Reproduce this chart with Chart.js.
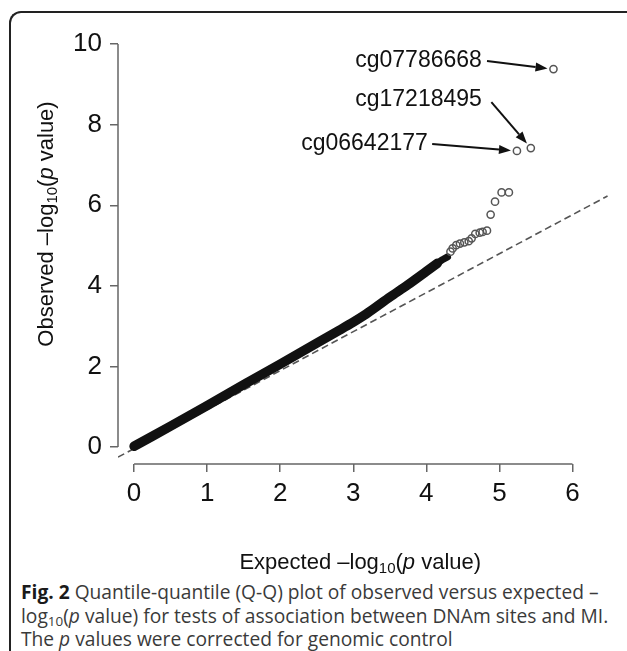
<!DOCTYPE html>
<html>
<head>
<meta charset="utf-8">
<script src="https://cdn.jsdelivr.net/npm/chart.js@4.4.0/dist/chart.umd.min.js"></script>
<style>
  body { margin: 0; background: #fff; }
  #wrap { position: relative; width: 627px; height: 651px; overflow: hidden; }
  #frame { position: absolute; left: 9px; top: 11px; width: 660px; height: 700px;
           border-top: 2px solid #222; border-left: 2px solid #222; border-top-left-radius: 12px; }
  #qq { position: absolute; left: 0; top: 0; }
  #caption { position: absolute; left: 21px; top: 580px; font-family: "Open Sans", sans-serif;
             font-size: 19.2px; line-height: 23.5px; color: #3a3a3a; white-space: nowrap; }
  #caption b { color: #1a1a1a; }
  #caption sub { font-size: 0.7em; line-height: 0; vertical-align: -0.25em; }
</style>
</head>
<body>
<div id="wrap">
  <div id="frame"></div>
  <canvas id="qq" width="627" height="578"></canvas>
  <div id="caption"><b>Fig. 2</b> Quantile-quantile (Q-Q) plot of observed versus expected &ndash;<br>log<sub>10</sub>(<i>p</i> value) for tests of association between DNAm sites and MI.<br>The <i>p</i> values were corrected for genomic control</div>
</div>
<script>
// tick labels
const xTicks = [0, 1, 2, 3, 4, 5, 6];
const yTicks = [0, 2, 4, 6, 8, 10];

// dense part of the cloud (expected vs observed -log10 p)
const bulkExpected = [0, 0.5, 1, 1.5, 2, 2.5, 2.8, 3.0, 3.15, 3.3, 3.5, 3.75, 4.0, 4.15];
const bulkObserved = [0.02, 0.52, 1.03, 1.55, 2.06, 2.58, 2.89, 3.1, 3.27, 3.46, 3.72, 4.03, 4.36, 4.56];
// very top of the band, thinner
const upperExpected = [4.15, 4.22, 4.29];
const upperObserved = [4.56, 4.65, 4.72];

// individual points in the tail
const tailExpected = [4.33, 4.36, 4.41, 4.46, 4.52, 4.58, 4.62, 4.67, 4.73, 4.77, 4.83, 4.88, 4.94, 5.03, 5.13, 5.24, 5.43, 5.74];
const tailObserved = [4.85, 4.93, 5.01, 5.05, 5.08, 5.11, 5.18, 5.29, 5.32, 5.34, 5.37, 5.77, 6.09, 6.32, 6.32, 7.35, 7.42, 9.38];

// reference line
const refX = [-0.22, 6.48];
const refY = [-0.25, 6.23];

// labelled sites (last three tail points, from the top)
const topSites = ["cg07786668", "cg17218495", "cg06642177"];

const pts = (xs, ys) => xs.map((x, i) => ({ x: x, y: ys[i] }));
const FONT = '"Liberation Sans", Arial, sans-serif';

// label anchors in data units: right end of text, and start of the arrow
const labelPos = [
  { tx: 4.76, ty: 9.58, ax: 4.83, ay: 9.58, idx: 17 },
  { tx: 4.76, ty: 8.61, ax: 4.89, ay: 8.56, idx: 16 },
  { tx: 4.02, ty: 7.54, ax: 4.08, ay: 7.52, idx: 15 }
];

function drawRich(ctx, runs, cx, cy, rot) {
  ctx.save();
  ctx.translate(cx, cy);
  if (rot) ctx.rotate(rot);
  let total = 0;
  runs.forEach(r => { ctx.font = r.f; r.w = ctx.measureText(r.t).width; total += r.w; });
  let x = -total / 2;
  ctx.textBaseline = 'middle';
  ctx.textAlign = 'left';
  ctx.fillStyle = '#111';
  runs.forEach(r => { ctx.font = r.f; ctx.fillText(r.t, x, r.dy || 0); x += r.w; });
  ctx.restore();
}

function titleRuns(word) {
  const base = '22px ' + FONT;
  return [
    { t: word + ' \u2013log', f: base },
    { t: '10', f: '15px ' + FONT, dy: 6 },
    { t: '(', f: base },
    { t: 'p', f: 'italic 22px ' + FONT },
    { t: ' value)', f: base }
  ];
}

const decor = {
  id: 'decor',
  afterDraw(chart) {
    const ctx = chart.ctx;
    const xs = chart.scales.x, ys = chart.scales.y;
    const area = chart.chartArea;

    // R style axes: lines only across the tick range
    ctx.save();
    ctx.strokeStyle = '#666';
    ctx.lineWidth = 1.5;
    ctx.beginPath();
    ctx.moveTo(area.left, ys.getPixelForValue(yTicks[0]));
    ctx.lineTo(area.left, ys.getPixelForValue(yTicks[yTicks.length - 1]));
    ctx.moveTo(xs.getPixelForValue(xTicks[0]), area.bottom);
    ctx.lineTo(xs.getPixelForValue(xTicks[xTicks.length - 1]), area.bottom);
    ctx.stroke();
    ctx.restore();

    // axis titles
    drawRich(ctx, titleRuns('Expected'), (xs.getPixelForValue(0) + xs.getPixelForValue(6)) / 2 + 7, 563, 0);
    drawRich(ctx, titleRuns('Observed'), 47, 224, -Math.PI / 2);

    // site labels with arrows
    ctx.save();
    ctx.font = '23px ' + FONT;
    ctx.fillStyle = '#111';
    ctx.textAlign = 'right';
    ctx.textBaseline = 'middle';
    labelPos.forEach((l, i) => {
      ctx.fillText(topSites[i], xs.getPixelForValue(l.tx), ys.getPixelForValue(l.ty));
      const x0 = xs.getPixelForValue(l.ax), y0 = ys.getPixelForValue(l.ay);
      const px = xs.getPixelForValue(tailExpected[l.idx]), py = ys.getPixelForValue(tailObserved[l.idx]);
      const ang = Math.atan2(py - y0, px - x0);
      const x1 = px - 6 * Math.cos(ang), y1 = py - 6 * Math.sin(ang);
      const hl = 12, hw = 4.5;
      const bx = x1 - hl * Math.cos(ang), by = y1 - hl * Math.sin(ang);
      ctx.strokeStyle = '#111';
      ctx.lineWidth = 2;
      ctx.beginPath();
      ctx.moveTo(x0, y0);
      ctx.lineTo(bx, by);
      ctx.stroke();
      ctx.beginPath();
      ctx.moveTo(x1, y1);
      ctx.lineTo(bx - hw * Math.sin(ang), by + hw * Math.cos(ang));
      ctx.lineTo(bx + hw * Math.sin(ang), by - hw * Math.cos(ang));
      ctx.closePath();
      ctx.fill();
    });
    ctx.restore();
  }
};

new Chart(document.getElementById('qq'), {
  type: 'scatter',
  data: {
    datasets: [
      {
        type: 'line', label: 'null', data: pts(refX, refY), showLine: true,
        borderColor: '#555', borderWidth: 1.6, borderDash: [7, 4], pointRadius: 0, order: 4
      },
      {
        type: 'line', label: 'bulk', data: pts(bulkExpected, bulkObserved), showLine: true,
        borderColor: '#111', borderWidth: 9.5, borderCapStyle: 'round', borderJoinStyle: 'round',
        tension: 0.3, pointRadius: 0, order: 3
      },
      {
        type: 'line', label: 'upper', data: pts(upperExpected, upperObserved), showLine: true,
        borderColor: '#111', borderWidth: 7, borderCapStyle: 'round', borderJoinStyle: 'round',
        pointRadius: 0, order: 2
      },
      {
        label: 'tail', data: pts(tailExpected, tailObserved),
        pointRadius: 3.6, pointBorderWidth: 1.5, borderColor: '#555',
        backgroundColor: 'rgba(255,255,255,0)', order: 1
      }
    ]
  },
  options: {
    responsive: false,
    animation: false,
    layout: { padding: { top: 28, right: 18, left: 0, bottom: 0 } },
    plugins: { legend: { display: false }, tooltip: { enabled: false } },
    scales: {
      x: {
        type: 'linear', min: -0.22, max: 6.5,
        afterFit(s) { s.height = 114; },
        afterBuildTicks(s) { s.ticks = xTicks.map(v => ({ value: v })); },
        border: { display: false },
        grid: { drawOnChartArea: false, drawTicks: true, tickLength: 8, color: '#666', lineWidth: 1.5 },
        ticks: { font: { size: 26, family: FONT }, color: '#111', padding: 6, maxRotation: 0, callback: v => String(v) }
      },
      y: {
        type: 'linear', min: -0.42, max: 10.4,
        afterFit(s) { s.width = 118; },
        afterBuildTicks(s) { s.ticks = yTicks.map(v => ({ value: v })); },
        border: { display: false },
        grid: { drawOnChartArea: false, drawTicks: true, tickLength: 8, color: '#666', lineWidth: 1.5 },
        ticks: { font: { size: 26, family: FONT }, color: '#111', padding: 8, callback: v => String(v) }
      }
    }
  },
  plugins: [decor]
});
</script>
</body>
</html>
